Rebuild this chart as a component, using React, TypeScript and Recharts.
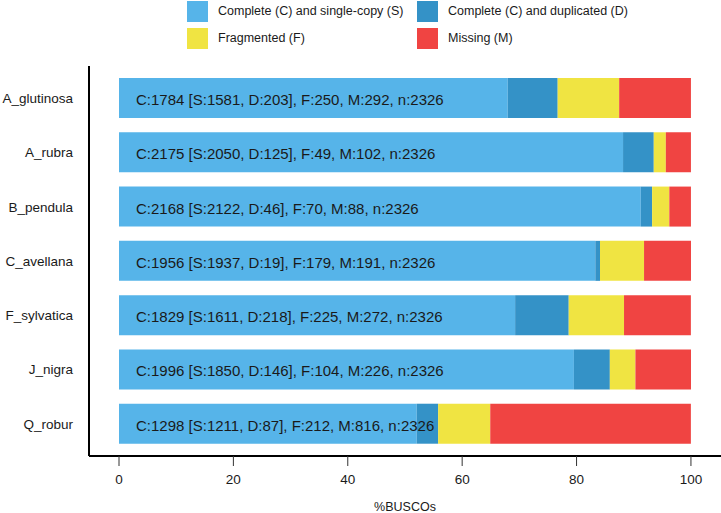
import React from "react";
import { BarChart, Bar, XAxis, YAxis, Legend, LabelList, Label } from "recharts";

const species = [
  "A_glutinosa",
  "A_rubra",
  "B_pendula",
  "C_avellana",
  "F_sylvatica",
  "J_nigra",
  "Q_robur",
];

// BUSCO counts shown in the bar labels
const completeCounts = [1784, 2175, 2168, 1956, 1829, 1996, 1298];
const singleCounts = [1581, 2050, 2122, 1937, 1611, 1850, 1211];
const duplicatedCounts = [203, 125, 46, 19, 218, 146, 87];
const fragmentedCounts = [250, 49, 70, 179, 225, 104, 212];
const missingCounts = [292, 102, 88, 191, 272, 226, 816];
const totalCounts = [2326, 2326, 2326, 2326, 2326, 2326, 2326];

// percentages (bar lengths)
const singlePct = [67.97, 88.13, 91.23, 83.28, 69.26, 79.54, 52.06];
const duplicatedPct = [8.73, 5.37, 1.98, 0.82, 9.37, 6.28, 3.74];
const fragmentedPct = [10.75, 2.11, 3.01, 7.7, 9.67, 4.47, 9.11];
const missingPct = [12.55, 4.39, 3.78, 8.21, 11.69, 9.72, 35.08];

const seriesNames = [
  "Complete (C) and single-copy (S)",
  "Complete (C) and duplicated (D)",
  "Fragmented (F)",
  "Missing (M)",
];

const xTicks = [0, 20, 40, 60, 80, 100];

const FONT = "'Liberation Sans', Arial, Helvetica, sans-serif";

const data = species.map((name, i) => ({
  name,
  single: singlePct[i],
  duplicated: duplicatedPct[i],
  fragmented: fragmentedPct[i],
  missing: missingPct[i],
  label: `C:${completeCounts[i]} [S:${singleCounts[i]}, D:${duplicatedCounts[i]}], F:${fragmentedCounts[i]}, M:${missingCounts[i]}, n:${totalCounts[i]}`,
}));

const renderBarLabel = (props: any) => {
  const { x, y, height, value } = props;
  return (
    <text
      x={Number(x) + 17}
      y={Number(y) + Number(height) / 2 + 7}
      fontSize={15}
      fontFamily={FONT}
      fill="#1a1a1a"
    >
      {value}
    </text>
  );
};

const renderLegend = (props: any) => {
  const items = [...(props.payload || [])].sort(
    (a: any, b: any) => seriesNames.indexOf(a.value) - seriesNames.indexOf(b.value)
  );
  const cols = [187, 417];
  const rows = [1, 28];
  return (
    <div style={{ position: "relative", width: 721, height: 56 }}>
      {items.map((entry: any, i: number) => {
        const left = cols[i % 2];
        const top = rows[Math.floor(i / 2)];
        return (
          <div key={entry.value} style={{ position: "absolute", left, top, height: 21 }}>
            <div
              style={{
                position: "absolute",
                left: 0,
                top: 0,
                width: 21,
                height: 21,
                background: entry.color,
              }}
            />
            <span
              style={{
                position: "absolute",
                left: 31,
                top: 0,
                lineHeight: "21px",
                whiteSpace: "nowrap",
                fontSize: 12.5,
                fontFamily: FONT,
                color: "#1a1a1a",
              }}
            >
              {entry.value}
            </span>
          </div>
        );
      })}
    </div>
  );
};

export default function App() {
  return (
    <div style={{ position: "absolute", left: 0, top: 0, background: "#fff" }}>
      <BarChart
        width={721}
        height={513}
        data={data}
        layout="vertical"
        margin={{ top: 66, right: 0, bottom: 0, left: 0 }}
        style={{ fontFamily: FONT }}
      >
        <XAxis
          type="number"
          domain={[0, 100]}
          ticks={xTicks}
          padding={{ left: 30, right: 30 }}
          height={57}
          axisLine={{ stroke: "#000", strokeWidth: 2 }}
          tickLine={{ stroke: "#333", strokeWidth: 1 }}
          tickSize={10}
          tickMargin={8}
          tick={{ fontSize: 13.5, fill: "#1a1a1a", fontFamily: FONT }}
        >
          <Label
            value="%BUSCOs"
            position="insideBottom"
            offset={2}
            style={{ fontSize: 12.5, fill: "#1a1a1a", fontFamily: FONT }}
          />
        </XAxis>
        <YAxis
          type="category"
          dataKey="name"
          width={89}
          padding={{ top: 5, bottom: 5 }}
          axisLine={{ stroke: "#000", strokeWidth: 2 }}
          tickLine={false}
          tickSize={0}
          tickMargin={16}
          tick={{ fontSize: 13.5, fill: "#1a1a1a", fontFamily: FONT }}
        />
        <Legend
          layout="horizontal"
          verticalAlign="middle"
          align="center"
          content={renderLegend}
          wrapperStyle={{ position: "absolute", left: 0, top: 0, width: 721, height: 56 }}
        />
        <Bar
          dataKey="single"
          name={seriesNames[0]}
          stackId="busco"
          fill="#56B4E9"
          barSize={40}
          isAnimationActive={false}
        >
          <LabelList dataKey="label" content={renderBarLabel} />
        </Bar>
        <Bar
          dataKey="duplicated"
          name={seriesNames[1]}
          stackId="busco"
          fill="#3492C7"
          barSize={40}
          isAnimationActive={false}
        />
        <Bar
          dataKey="fragmented"
          name={seriesNames[2]}
          stackId="busco"
          fill="#F0E442"
          barSize={40}
          isAnimationActive={false}
        />
        <Bar
          dataKey="missing"
          name={seriesNames[3]}
          stackId="busco"
          fill="#F04442"
          barSize={40}
          isAnimationActive={false}
        />
      </BarChart>
    </div>
  );
}
